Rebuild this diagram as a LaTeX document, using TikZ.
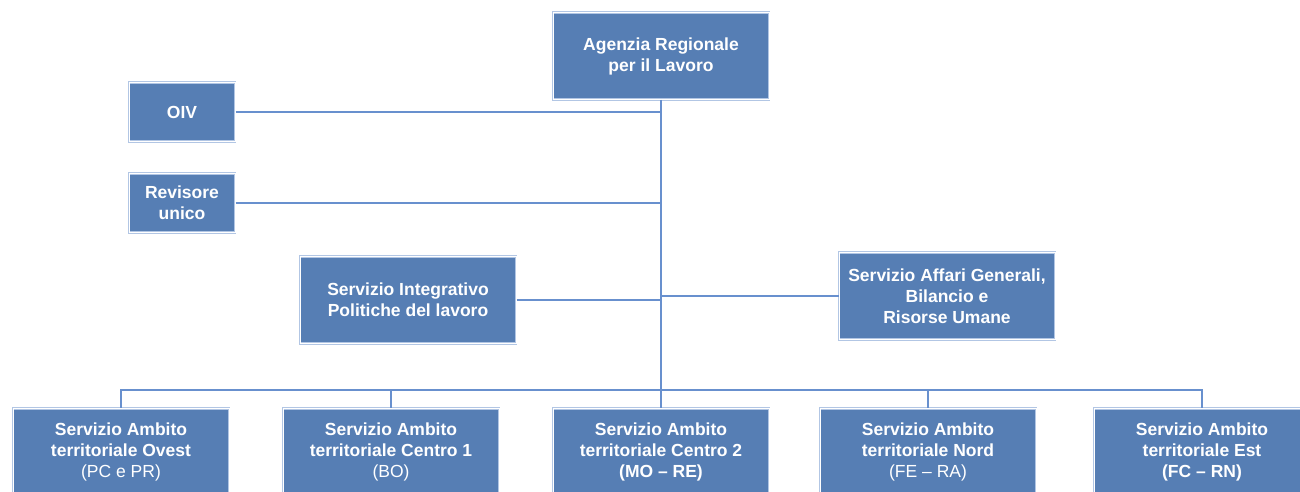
\documentclass[tikz,border=0pt]{standalone}
\usepackage{fontspec}
\setmainfont{Liberation Sans}

\definecolor{boxfill}{RGB}{86,126,180}
\definecolor{boxedge}{RGB}{178,198,228}
\definecolor{linkcol}{RGB}{104,144,206}

\begin{document}
\begin{tikzpicture}[x=1pt,y=-1pt]
        \tikzset{
        box/.style={rectangle, fill=boxfill, draw=boxedge, double=white,
        double distance=0.8pt, line width=1pt, text=white, align=center,
        font=\fontsize{17.5}{21}\selectfont\bfseries, inner sep=0pt},
        big/.style={box, minimum width=216, minimum height=87},
        small/.style={box, minimum width=106, minimum height=59},
        link/.style={draw=linkcol, line width=1.3pt},
        }
        \useasboundingbox (0,0) rectangle (1300,492);
        \clip (0,0) rectangle (1300,492);

        \node[big] (agenzia) at (661,56) {Agenzia Regionale\\per il Lavoro};
        \node[small] (oiv) at (182,112) {OIV};
        \node[small] (revisore) at (182,203) {Revisore\\unico};
        \node[big] (integr) at (408,300) {Servizio Integrativo\\Politiche del lavoro};
        \node[big] (affari) at (947,296) {Servizio Affari Generali,\\Bilancio e\\Risorse Umane};

        \node[big] (ovest) at (121,452) {Servizio Ambito\\territoriale Ovest\\\mdseries(PC e PR)};
        \node[big] (centro1) at (391,452) {Servizio Ambito\\territoriale Centro 1\\\mdseries(BO)};
        \node[big] (centro2) at (661,452) {Servizio Ambito\\territoriale Centro 2\\(MO -- RE)};
        \node[big] (nord) at (928,452) {Servizio Ambito\\territoriale Nord\\\mdseries(FE -- RA)};
        \node[big] (est) at (1202,452) {Servizio Ambito\\territoriale Est\\(FC -- RN)};

        \coordinate (hub) at (661,390);

        \draw[link] (agenzia) -- (hub);
        \draw[link] (oiv) -- (oiv -| hub);
        \draw[link] (revisore) -- (revisore -| hub);
        \draw[link] (integr) -- (integr -| hub);
        \draw[link] (affari) -- (affari -| hub);
        \draw[link] (hub) -| (ovest);
        \draw[link] (hub) -| (centro1);
        \draw[link] (hub) -- (centro2);
        \draw[link] (hub) -| (nord);
        \draw[link] (hub) -| (est);
        \end{tikzpicture}
\end{document}
